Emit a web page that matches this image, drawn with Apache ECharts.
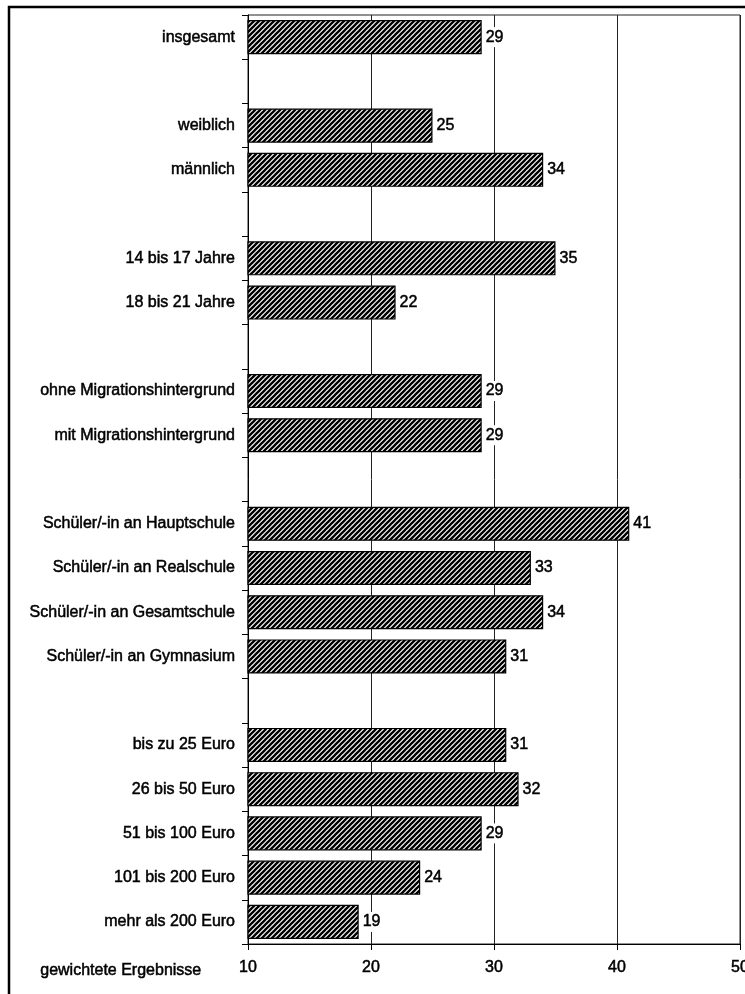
<!DOCTYPE html>
<html>
<head>
<meta charset="utf-8">
<script src="https://cdn.jsdelivr.net/npm/echarts@6/dist/echarts.min.js"></script>
<style>
  html, body { margin: 0; padding: 0; background: #fff; }
  #chart { width: 745px; height: 994px; }
</style>
</head>
<body>
<div id="chart"></div>
<script>
// Group rows; empty strings are spacer rows between groups
const categories = [
  'insgesamt', '',
  'weiblich', 'männlich', '',
  '14 bis 17 Jahre', '18 bis 21 Jahre', '',
  'ohne Migrationshintergrund', 'mit Migrationshintergrund', '',
  'Schüler/-in an Hauptschule', 'Schüler/-in an Realschule',
  'Schüler/-in an Gesamtschule', 'Schüler/-in an Gymnasium', '',
  'bis zu 25 Euro', '26 bis 50 Euro', '51 bis 100 Euro',
  '101 bis 200 Euro', 'mehr als 200 Euro'
];
const values = [
  29, null,
  25, 34, null,
  35, 22, null,
  29, 29, null,
  41, 33, 34, 31, null,
  31, 32, 29, 24, 19
];
const xTicks = [10, 20, 30, 40, 50];
const axisCaption = 'gewichtete Ergebnisse';

const FONT = '"Liberation Sans", Arial, sans-serif';
const FONT_SIZE = 16;
// a thin outline gives the text a medium weight
const TEXT_WEIGHT = { textBorderColor: '#000', textBorderWidth: 0.5 };

// Diagonal hatch fill for the bars
function hatchPattern() {
  const s = 5;
  const c = document.createElement('canvas');
  c.width = s; c.height = s;
  const g = c.getContext('2d');
  g.fillStyle = '#fff';
  g.fillRect(0, 0, s, s);
  g.strokeStyle = '#000';
  g.lineWidth = 2.3;
  g.beginPath();
  g.moveTo(-1, s + 1); g.lineTo(s + 1, -1);
  g.moveTo(-2, 2); g.lineTo(2, -2);
  g.moveTo(s - 2, s + 2); g.lineTo(s + 2, s - 2);
  g.stroke();
  return c;
}

const textStyle = Object.assign({
  color: '#000', fontFamily: FONT, fontSize: FONT_SIZE
}, TEXT_WEIGHT);

const chart = echarts.init(document.getElementById('chart'), null, { renderer: 'canvas' });

chart.setOption({
  animation: false,
  backgroundColor: '#fff',
  grid: {
    left: 248, right: 5, top: 15, bottom: 50,
    outerBoundsMode: 'none',
    containLabel: false,
    show: true, borderColor: '#222', borderWidth: 1, backgroundColor: 'transparent'
  },
  xAxis: {
    type: 'value',
    min: xTicks[0], max: xTicks[xTicks.length - 1], interval: 10,
    axisLine: { show: true, lineStyle: { color: '#000', width: 1 } },
    axisTick: { show: true, length: 6, lineStyle: { color: '#000' } },
    axisLabel: Object.assign({ margin: 16 }, textStyle),
    splitLine: { show: true, lineStyle: { color: '#222', width: 1 } }
  },
  yAxis: {
    type: 'category',
    inverse: true,
    data: categories,
    axisLine: { show: true, lineStyle: { color: '#000', width: 1 } },
    axisTick: { show: true, length: 6, interval: 0, lineStyle: { color: '#000' } },
    axisLabel: Object.assign({ margin: 13, interval: 0 }, textStyle),
    splitLine: { show: false }
  },
  series: [{
    type: 'bar',
    data: values,
    barWidth: '77%',
    itemStyle: {
      color: { image: hatchPattern(), repeat: 'repeat' },
      borderColor: '#000',
      borderWidth: 1.2
    },
    label: Object.assign({
      show: true,
      position: 'right',
      distance: 2,
      backgroundColor: '#fff',
      padding: [2, 2]
    }, textStyle)
  }],
  graphic: [
    {
      type: 'rect',
      shape: { x: 9, y: 7, width: 800, height: 1100 },
      style: { fill: 'none', stroke: '#000', lineWidth: 2.5 },
      silent: true
    },
    {
      type: 'text',
      left: 40,
      top: 962,
      style: {
        text: axisCaption, fill: '#000', font: FONT_SIZE + 'px ' + FONT,
        stroke: '#000', lineWidth: 0.5
      }
    }
  ]
});
</script>
</body>
</html>
